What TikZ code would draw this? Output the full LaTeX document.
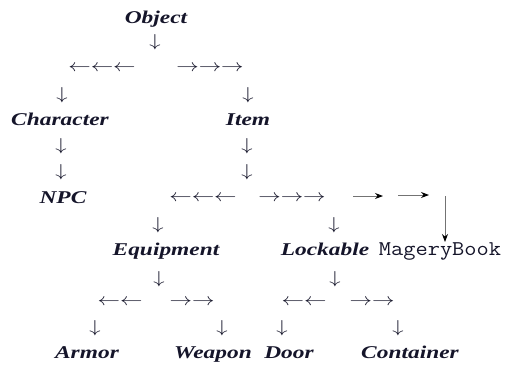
\documentclass[tikz,border=0pt]{standalone}
\usepackage{fontspec}
\newfontfamily\tnr{Liberation Serif}
\usetikzlibrary{arrows.meta}
\definecolor{ink}{HTML}{15152A}
\newcommand{\wide}[1]{\scalebox{1.3}[1]{#1}}
\tikzset{
  lbl/.style={inner sep=0pt, anchor=base, text=ink, font=\tnr\bfseries\itshape\fontsize{18}{18}\selectfont},
  arr/.style={inner sep=0pt, text=ink, font=\fontsize{18}{18}\selectfont},
  mono/.style={inner sep=0pt, anchor=base, text=ink, font=\ttfamily\fontsize{21}{21}\selectfont},
  bigarr/.style={draw=black!55, line width=0.9pt, -{Stealth[length=8pt,width=6pt,color=black]}}
}
\begin{document}
\begin{tikzpicture}[x=1pt,y=-1pt]
\useasboundingbox (0,0) rectangle (509,365);
% level 0
\node[lbl] (object) at (156,23) {\wide{Object}};
\node[arr] (d0) at (155,42) {\wide{$\downarrow$}};
\node[arr] (l0) at (102,68) {\wide{$\leftarrow\leftarrow\leftarrow$}};
\node[arr] (r0) at (210,68) {\wide{$\rightarrow\rightarrow\rightarrow$}};
\node[arr] (d1) at (62,95) {\wide{$\downarrow$}};
\node[arr] (d2) at (248,95) {\wide{$\downarrow$}};
% level 1
\node[lbl] (character) at (60,125) {\wide{Character}};
\node[lbl] (item) at (248,125) {\wide{Item}};
\node[arr] (c1) at (61,146) {\wide{$\downarrow$}};
\node[arr] (c2) at (61,172) {\wide{$\downarrow$}};
\node[lbl] (npc) at (63,203) {\wide{NPC}};
\node[arr] (i1) at (247,146) {\wide{$\downarrow$}};
\node[arr] (i2) at (247,172) {\wide{$\downarrow$}};
\node[arr] (l1) at (203,198) {\wide{$\leftarrow\leftarrow\leftarrow$}};
\node[arr] (r1) at (292,198) {\wide{$\rightarrow\rightarrow\rightarrow$}};
\coordinate (s1a) at (353,196);
\coordinate (s1b) at (383,196);
\coordinate (s2a) at (398,195);
\coordinate (s2b) at (429,195);
\coordinate (s3a) at (445,196);
\coordinate (s3b) at (445,242);
\draw[bigarr] (s1a) -- (s1b);
\draw[bigarr] (s2a) -- (s2b);
\draw[bigarr] (s3a) -- (s3b);
\node[arr] (e0) at (158,225) {\wide{$\downarrow$}};
\node[arr] (k0) at (334,225) {\wide{$\downarrow$}};
% level 2
\node[lbl] (equipment) at (166,255) {\wide{Equipment}};
\node[lbl] (lockable) at (325,255) {\wide{Lockable}};
\node[mono] (magery) at (440,255) {\scalebox{1.13}[1]{MageryBook}};
\node[arr] (e1) at (159,279) {\wide{$\downarrow$}};
\node[arr] (k1) at (335,279) {\wide{$\downarrow$}};
\node[arr] (l2) at (120,302) {\wide{$\leftarrow\leftarrow$}};
\node[arr] (r2) at (192,302) {\wide{$\rightarrow\rightarrow$}};
\node[arr] (l3) at (304,302) {\wide{$\leftarrow\leftarrow$}};
\node[arr] (r3) at (372,302) {\wide{$\rightarrow\rightarrow$}};
\node[arr] (a1) at (95,328) {\wide{$\downarrow$}};
\node[arr] (a2) at (222,328) {\wide{$\downarrow$}};
\node[arr] (a3) at (282,328) {\wide{$\downarrow$}};
\node[arr] (a4) at (398,328) {\wide{$\downarrow$}};
% level 3
\node[lbl] (armor) at (87,358) {\wide{Armor}};
\node[lbl] (weapon) at (213,358) {\wide{Weapon}};
\node[lbl] (door) at (289,358) {\wide{Door}};
\node[lbl] (container) at (410,358) {\wide{Container}};
\end{tikzpicture}
\end{document}
